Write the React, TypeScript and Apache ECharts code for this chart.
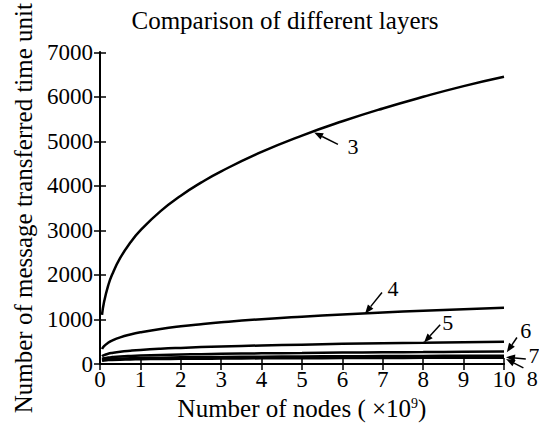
import React, { useEffect, useRef } from 'react';
import * as echarts from 'echarts';

const xNodes = [0.05, 0.1, 0.2, 0.3, 0.5, 0.75, 1, 1.5, 2, 2.5, 3, 4, 5, 6, 7, 8, 9, 10];
const layer3 = [1105, 1392, 1754, 2008, 2381, 2726, 3000, 3434, 3780, 4072, 4327, 4762, 5130, 5451, 5739, 6000, 6240, 6450];
const layer4 = [336, 400, 475, 526, 598, 662, 711, 787, 846, 894, 936, 1006, 1063, 1113, 1156, 1196, 1232, 1264];
const layer5 = [173, 199, 229, 248, 275, 298, 316, 342, 362, 379, 393, 416, 435, 452, 466, 478, 490, 500];
const layer6 = [115, 129, 145, 155, 169, 181, 190, 203, 213, 221, 228, 239, 248, 256, 262, 268, 274, 278];
const layer7 = [88, 97, 107, 114, 122, 130, 135, 143, 149, 154, 158, 165, 170, 174, 178, 182, 185, 188];
const layer8 = [73, 80, 87, 92, 98, 103, 107, 112, 116, 119, 122, 127, 130, 133, 136, 138, 140, 142];

const seriesNames = ['3', '4', '5', '6', '7', '8'];
const seriesValues = [layer3, layer4, layer5, layer6, layer7, layer8];

// annotation labels and arrows, in data coordinates
const annLabels = ['3', '4', '5', '6', '7', '8'];
const annText: [number, number][] = [[6.26, 4890], [7.25, 1695], [8.61, 925], [10.54, 748], [10.74, 200], [10.7, -330]];
const annTail: [number, number][] = [[5.89, 4931], [6.98, 1607], [8.42, 880], [10.32, 594], [10.54, 110], [10.48, -88]];
const annTip: [number, number][] = [[5.3, 5200], [6.56, 1130], [8.02, 484], [10.07, 264], [10.05, 154], [10.05, 110]];

const FONT = 'Liberation Serif, serif';

export default function App() {
  const ref = useRef<HTMLDivElement>(null);
  useEffect(() => {
    if (!ref.current) return;
    const chart = echarts.init(ref.current, undefined, { renderer: 'svg' });
    const axisLine = { show: true, lineStyle: { color: '#000', width: 2 } };
    const tick = { show: true, inside: true, length: 6, lineStyle: { color: '#000', width: 1.5 } };
    const plain = (v: number) => String(v);
    chart.setOption({
      animation: false,
      backgroundColor: '#fff',
      textStyle: { fontFamily: FONT },
      title: {
        text: 'Comparison of different layers',
        left: 285,
        textAlign: 'center',
        top: 8,
        padding: 0,
        textStyle: { fontFamily: FONT, fontSize: 25, fontWeight: 'normal', color: '#000' },
      },
      grid: { left: 100, right: 35, top: 46, bottom: 65 },
      xAxis: [
        {
          type: 'value', min: 0, max: 10, interval: 1, position: 'bottom',
          axisLine, axisTick: tick, splitLine: { show: false },
          axisLabel: { fontFamily: FONT, fontSize: 23, fontWeight: 'normal', color: '#000', margin: 4, formatter: plain },
          name: 'Number of nodes ( ×10{sup|9})',
          nameLocation: 'middle', nameGap: 32,
          nameTextStyle: {
            fontFamily: FONT, fontSize: 25, fontWeight: 'normal', color: '#000',
            rich: { sup: { fontFamily: FONT, fontSize: 14, color: '#000', verticalAlign: 'top' } },
          },
        },
        {
          type: 'value', min: 0, max: 10, interval: 1, position: 'top',
          axisLine, axisTick: tick, splitLine: { show: false }, axisLabel: { show: false },
        },
      ],
      yAxis: [
        {
          type: 'value', min: 0, max: 7000, interval: 1000, position: 'left',
          axisLine, axisTick: tick, splitLine: { show: false },
          axisLabel: { fontFamily: FONT, fontSize: 23, fontWeight: 'normal', color: '#000', margin: 7, formatter: plain },
          name: 'Number of message transferred time unit',
          nameLocation: 'middle', nameGap: 64,
          nameTextStyle: { fontFamily: FONT, fontSize: 25, fontWeight: 'normal', color: '#000' },
        },
        {
          type: 'value', min: 0, max: 7000, interval: 1000, position: 'right',
          axisLine, axisTick: tick, splitLine: { show: false }, axisLabel: { show: false },
        },
      ],
      series: seriesValues.map((vals, i) => ({
        name: seriesNames[i],
        type: 'line',
        xAxisIndex: 0,
        yAxisIndex: 0,
        data: vals.map((v, j) => [xNodes[j], v]),
        smooth: true,
        showSymbol: false,
        symbol: 'none',
        lineStyle: { color: '#000', width: 2.5 },
      })),
    });

    const graphics: any[] = [];
    for (let i = 0; i < annLabels.length; i++) {
      const tip = chart.convertToPixel({ xAxisIndex: 0, yAxisIndex: 0 }, annTip[i]) as number[];
      const tail = chart.convertToPixel({ xAxisIndex: 0, yAxisIndex: 0 }, annTail[i]) as number[];
      const txt = chart.convertToPixel({ xAxisIndex: 0, yAxisIndex: 0 }, annText[i]) as number[];
      const dx = tip[0] - tail[0];
      const dy = tip[1] - tail[1];
      const len = Math.sqrt(dx * dx + dy * dy) || 1;
      const ux = dx / len, uy = dy / len;
      const hl = 9, hw = 3.5;
      const bx = tip[0] - ux * hl, by = tip[1] - uy * hl;
      graphics.push({
        type: 'line',
        shape: { x1: tail[0], y1: tail[1], x2: bx, y2: by },
        style: { stroke: '#000', lineWidth: 1.5 },
        z: 100,
      });
      graphics.push({
        type: 'polygon',
        shape: { points: [[tip[0], tip[1]], [bx - uy * hw, by + ux * hw], [bx + uy * hw, by - ux * hw]] },
        style: { fill: '#000' },
        z: 100,
      });
      graphics.push({
        type: 'text',
        x: txt[0],
        y: txt[1],
        style: {
          text: annLabels[i], fontFamily: FONT, fontSize: 22, fontWeight: 'normal', fill: '#000',
          align: 'center', verticalAlign: 'middle',
        },
        z: 100,
      });
    }
    chart.setOption({ graphic: graphics });
    return () => chart.dispose();
  }, []);
  return <div ref={ref} style={{ position: 'fixed', left: 0, top: 0, width: 539, height: 429 }} />;
}
